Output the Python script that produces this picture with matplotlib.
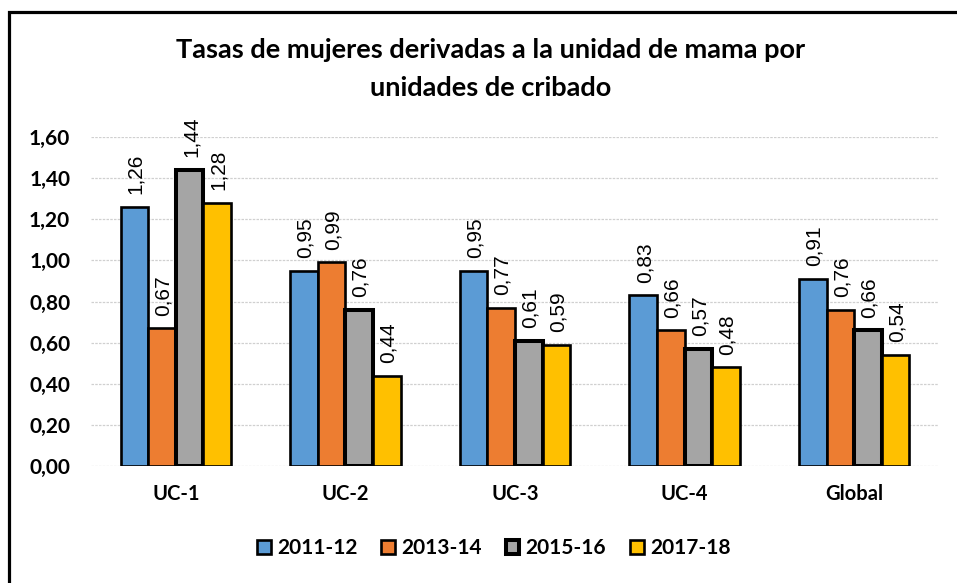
import matplotlib
matplotlib.use('Agg')
import numpy as np
from matplotlib import pyplot as plt
from matplotlib.patches import Rectangle

categories = ['UC-1', 'UC-2', 'UC-3', 'UC-4', 'Global']
series_names = ['2011-12', '2013-14', '2015-16', '2017-18']
v_2011 = [1.26, 0.95, 0.95, 0.83, 0.91]
v_2013 = [0.67, 0.99, 0.77, 0.66, 0.76]
v_2015 = [1.44, 0.76, 0.61, 0.57, 0.66]
v_2017 = [1.28, 0.44, 0.59, 0.48, 0.54]
y_ticks = [0.0, 0.2, 0.4, 0.6, 0.8, 1.0, 1.2, 1.4, 1.6]

colors = ['#5B9BD5', '#ED7D31', '#A5A5A5', '#FFC000']
edge_w = [1.9, 1.9, 2.9, 1.9]

fig = plt.figure(figsize=(9.57, 5.83), dpi=100)
ax = fig.add_axes([91 / 957, 1 - 466 / 583, 848 / 957, 329 / 583])

x = np.arange(len(categories))
bw = 0.1625
for i, vals in enumerate([v_2011, v_2013, v_2015, v_2017]):
    pos = x + (i - 1.5) * bw
    ax.bar(pos, vals, bw, color=colors[i], edgecolor='black',
           linewidth=edge_w[i], label=series_names[i], zorder=3)
    for px, v in zip(pos, vals):
        ax.annotate(f'{v:.2f}'.replace('.', ','), (px, v), xytext=(1, 9),
                    textcoords='offset points', rotation=90,
                    ha='center', va='bottom', fontsize=15,
                    family='Liberation Sans')

ax.set_xlim(-0.5, len(categories) - 0.5)
ax.set_ylim(0, 1.6)
ax.set_yticks(y_ticks)
ax.set_yticklabels([f'{t:.2f}'.replace('.', ',') for t in y_ticks],
                   fontsize=15, fontweight='bold', family='Lato')
ax.set_xticks(x)
ax.set_xticklabels(categories, fontsize=14.5, fontweight='bold', family='Lato')
ax.tick_params(axis='both', length=0)
ax.tick_params(axis='y', pad=15)
ax.tick_params(axis='x', pad=13)
ax.grid(axis='y', color='#D0D0D0', linewidth=0.9, linestyle=(0, (2, 1)), zorder=0)
for s in ax.spines.values():
    s.set_visible(False)

fig.text(0.513, 1 - 50 / 583, 'Tasas de mujeres derivadas a la unidad de mama por',
         ha='center', va='center', fontsize=19.5, fontweight='bold', family='Lato')
fig.text(0.513, 1 - 88 / 583, 'unidades de cribado',
         ha='center', va='center', fontsize=19.5, fontweight='bold', family='Lato')

leg = fig.legend(loc='center', bbox_to_anchor=(0.516, 1 - 548 / 583), ncol=4,
                 frameon=False, handlelength=0.65, handleheight=0.65,
                 handletextpad=0.3, columnspacing=1.15,
                 prop={'family': 'Lato', 'weight': 'bold', 'size': 15})

fig.patches.append(Rectangle((9 / 957, -0.1), 1.2, 1.1 - 12 / 583,
                             transform=fig.transFigure, fill=False,
                             edgecolor='black', linewidth=2.3))

fig.savefig('out.png', dpi=100)
